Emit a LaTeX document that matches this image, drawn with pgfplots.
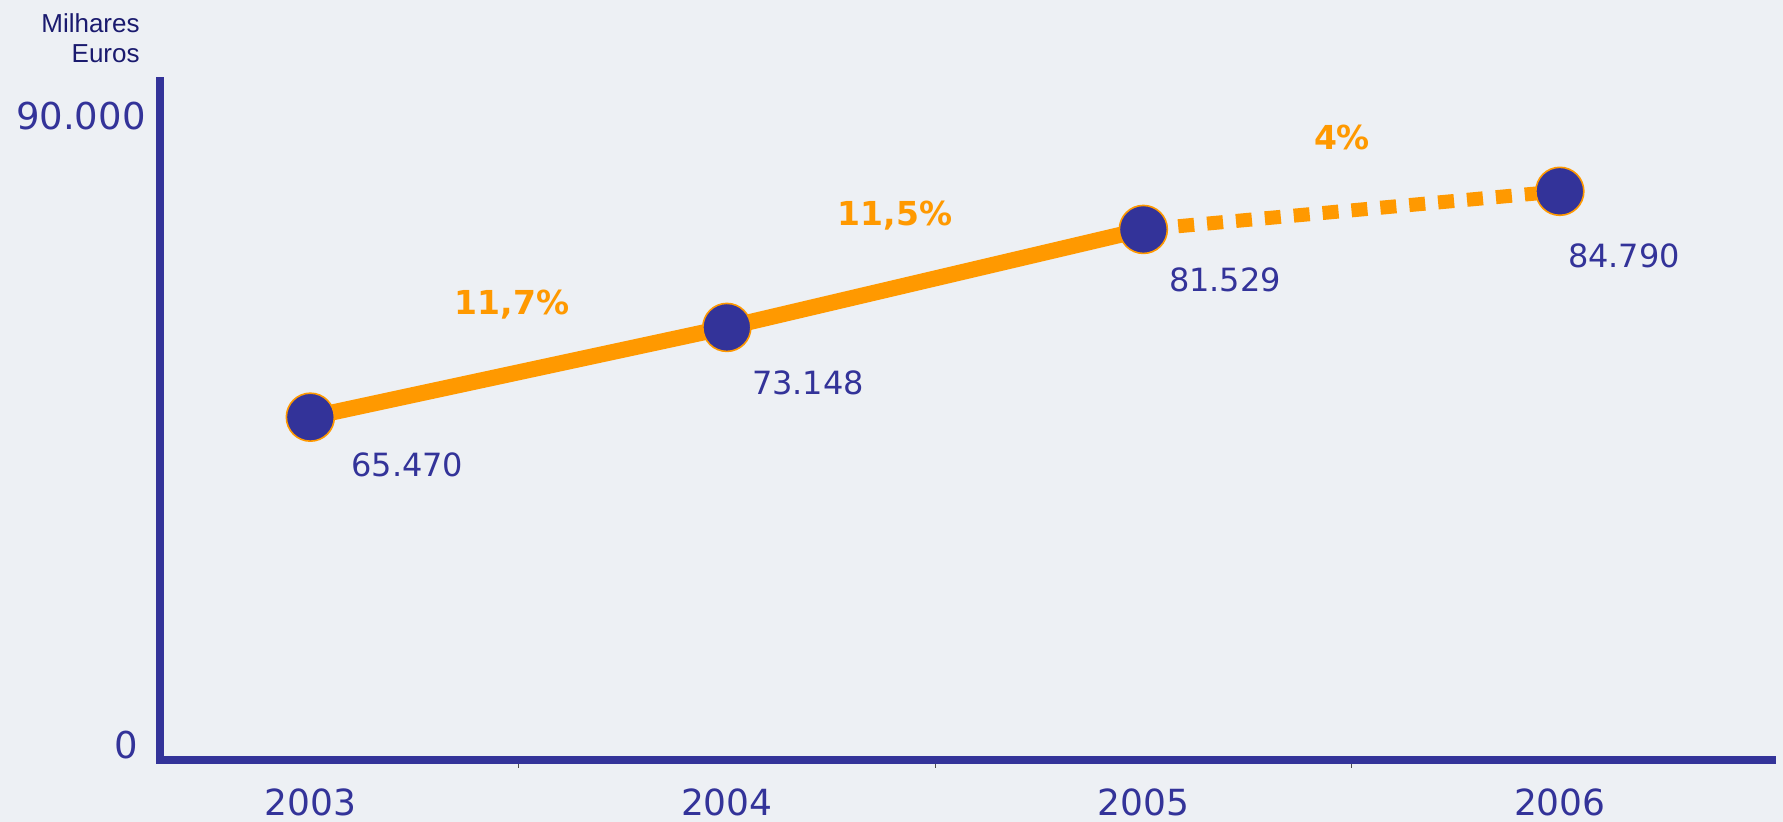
\documentclass[border=0pt]{standalone}
\usepackage{pgfplots}
\pgfplotsset{compat=1.18}
\usepackage{fontspec}
\setmainfont{DejaVu Sans}
\newfontfamily\arialfont{Liberation Sans}
\definecolor{axisblue}{RGB}{51,51,153}
\definecolor{orng}{RGB}{255,153,0}
\definecolor{navy}{RGB}{26,26,110}
\definecolor{bg}{RGB}{237,240,244}
\begin{document}
\begin{tikzpicture}
\fill[bg] (-80pt,-31pt) rectangle (811.5pt,380pt);
\begin{axis}[
 at={(0,0)}, anchor=south west,
 scale only axis, width=808pt, height=341.5pt,
 xmin=-0.361, xmax=3.519, ymin=36144, ymax=94570,
 axis x line=bottom, axis y line=left,
 axis line style={-, line width=4pt, draw=axisblue},
 xtick={0,1,2,3}, xticklabels={2003,2004,2005,2006},
 minor xtick={0.5,1.5,2.5},
 major tick length=0pt, minor tick length=4pt, tick align=outside,
 minor tick style={draw=black!70, line width=0.6pt},
 scaled y ticks=false,
 ytick={37427,91234}, yticklabels={0\kern4pt, 90.000},
 xticklabel style={font=\fontsize{18}{20}\selectfont, text=axisblue, anchor=center, yshift=-21pt},
 yticklabel style={font=\fontsize{18.5}{21}\selectfont, text=axisblue, anchor=east, inner sep=0pt, xshift=-7pt},
 /pgf/number format/assume math mode=true,
 clip=false,
]
\fill[axisblue] ([shift={(-2pt,-2pt)}]rel axis cs:0,0) rectangle (rel axis cs:0,0);
\addplot[orng, line width=8pt] coordinates {(0,65470) (1,73148) (2,81529)};
\addplot[orng, line width=7pt, dash pattern=on 8pt off 6.5pt, dash phase=-3pt] coordinates {(2,81529) (3,84790)};
\addplot[only marks, mark=*, mark size=12pt, mark options={fill=axisblue, draw=orng, line width=0.8pt}] coordinates {(0,65470) (1,73148) (2,81529) (3,84790)};
\node[text=axisblue, font=\fontsize{16}{18}\selectfont] at (axis cs:0.233,61379) {65.470};
\node[text=axisblue, font=\fontsize{16}{18}\selectfont] at (axis cs:1.195,68394) {73.148};
\node[text=axisblue, font=\fontsize{16}{18}\selectfont] at (axis cs:2.196,77205) {81.529};
\node[text=axisblue, font=\fontsize{16}{18}\selectfont] at (axis cs:3.154,79258) {84.790};
\node[text=orng, font=\bfseries\fontsize{16.5}{19}\selectfont] at (axis cs:0.484,75066) {11,7\%};
\node[text=orng, font=\bfseries\fontsize{16.5}{19}\selectfont] at (axis cs:1.404,82680) {11,5\%};
\node[text=orng, font=\bfseries\fontsize{16.5}{19}\selectfont] at (axis cs:2.477,89352) {4\%};
\node[anchor=east, align=right, text=navy, font=\arialfont\fontsize{13}{15}\selectfont, inner sep=0pt] at (axis cs:-0.409,97907) {Milhares\\Euros};
\end{axis}
\pgfresetboundingbox
\path (-80pt,-31pt) rectangle (811.5pt,380pt);
\end{tikzpicture}
\end{document}
